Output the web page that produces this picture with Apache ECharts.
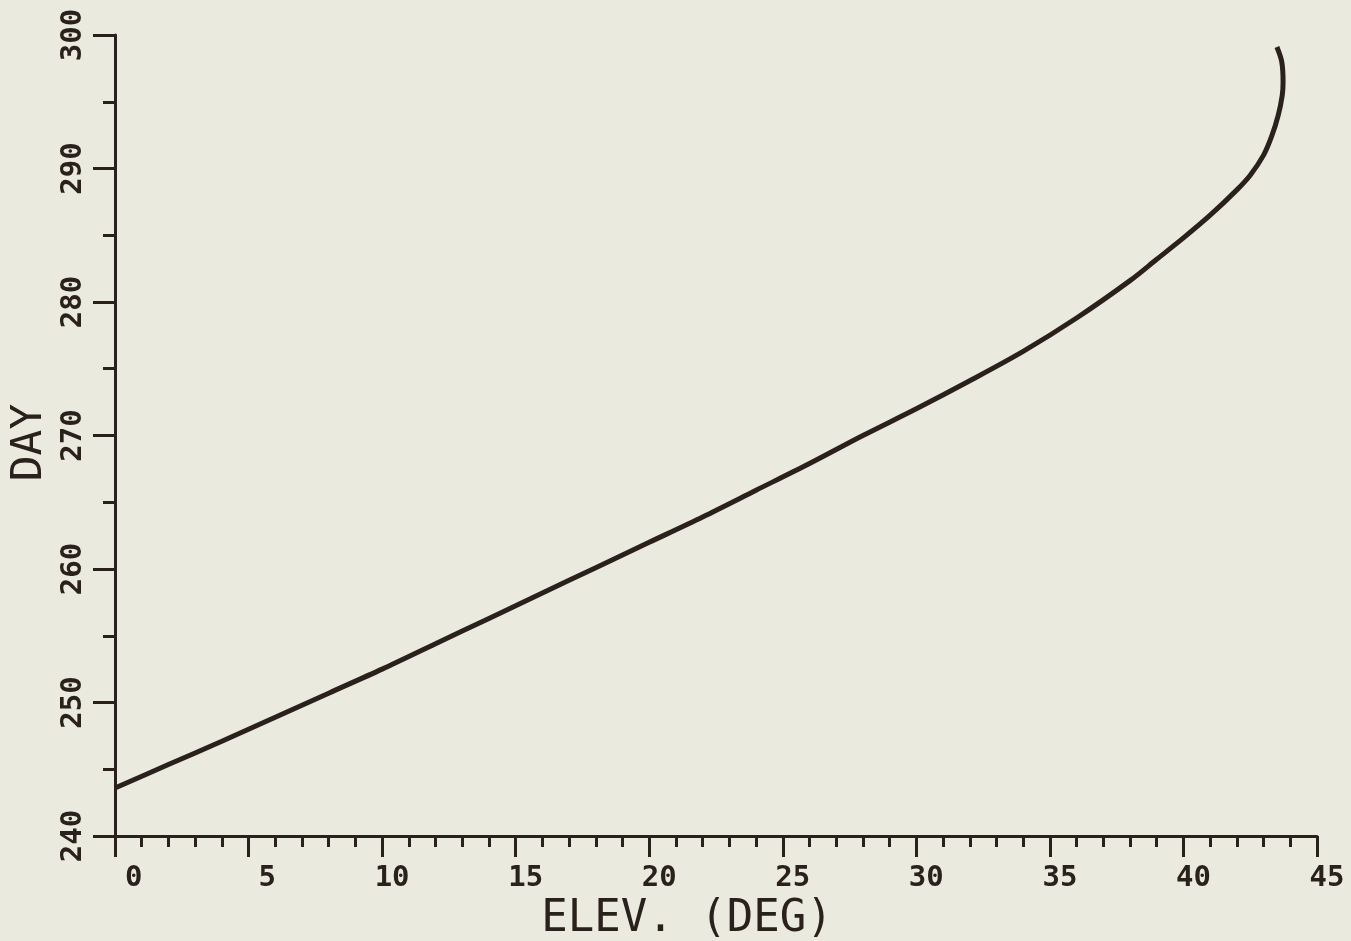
<!DOCTYPE html>
<html>
<head>
<meta charset="utf-8">
<title>Day vs Elevation</title>
<script src="https://cdn.jsdelivr.net/npm/echarts@6/dist/echarts.min.js"></script>
<style>
  html, body { margin: 0; padding: 0; background: #eaeadf; }
  #chart { width: 1351px; height: 941px; }
</style>
</head>
<body>
<div id="chart"></div>
<script>
// Elevation angle (degrees) and the corresponding day number
const elevation = [0, 2, 4, 6, 8, 10, 12, 14, 16, 18, 20, 22, 24, 26, 28, 30, 32, 34, 36, 38, 39, 40, 41, 42, 42.5, 43, 43.3, 43.55, 43.7, 43.73, 43.68, 43.5];
const day = [243.6, 245.35, 247.1, 248.9, 250.7, 252.5, 254.4, 256.3, 258.2, 260.1, 262.0, 263.9, 265.9, 267.9, 270.0, 272.0, 274.1, 276.3, 278.8, 281.6, 283.2, 284.8, 286.5, 288.4, 289.5, 291.0, 292.4, 294.0, 295.5, 296.5, 298.0, 299.1];

// Axis ranges and tick spacing
const xRange = [0, 45];
const xStep = 5;
const yRange = [240, 300];
const yStep = 10;

const xName = 'ELEV. (DEG)';
const yName = 'DAY';

const ink = '#2a211d';
const mono = '"DejaVu Sans Mono", "Liberation Mono", monospace';

const points = elevation.map((e, i) => [e, day[i]]);

const chart = echarts.init(document.getElementById('chart'), null, { renderer: 'canvas' });

chart.setOption({
  backgroundColor: '#eaeadf',
  animation: false,
  grid: { left: 115, right: 34, top: 35, bottom: 105, containLabel: false, outerBoundsMode: 'none' },
  xAxis: {
    type: 'value',
    min: xRange[0],
    max: xRange[1],
    interval: xStep,
    name: xName,
    nameLocation: 'middle',
    nameGap: 60,
    nameTextStyle: {
      fontFamily: mono,
      fontSize: 44,
      color: ink,
      padding: [0, 58, 0, 0]
    },
    axisLine: { show: true, onZero: false, lineStyle: { color: ink, width: 3 } },
    axisTick: { show: true, inside: false, length: 21, lineStyle: { color: ink, width: 3 } },
    minorTick: { show: true, splitNumber: 5, length: 11, lineStyle: { color: ink, width: 3 } },
    splitLine: { show: false },
    minorSplitLine: { show: false },
    axisLabel: {
      margin: 28,
      fontFamily: mono,
      fontWeight: 'bold',
      fontSize: 29,
      color: ink,
      align: 'center',
      padding: [0, 0, 0, 20],
      formatter: v => (String(v).length < 2 ? ' ' + v : String(v))
    }
  },
  yAxis: {
    type: 'value',
    min: yRange[0],
    max: yRange[1],
    interval: yStep,
    name: yName,
    nameLocation: 'middle',
    nameGap: 52,
    nameRotate: 90,
    nameTextStyle: {
      fontFamily: mono,
      fontSize: 43,
      color: ink,
      padding: [0, 14, 0, 0]
    },
    axisLine: { show: true, onZero: false, lineStyle: { color: ink, width: 3 } },
    axisTick: { show: true, inside: false, length: 22, lineStyle: { color: ink, width: 3 } },
    minorTick: { show: true, splitNumber: 2, length: 12, lineStyle: { color: ink, width: 3 } },
    splitLine: { show: false },
    minorSplitLine: { show: false },
    axisLabel: {
      margin: 27,
      rotate: 90,
      fontFamily: mono,
      fontWeight: 'bold',
      fontSize: 29,
      color: ink
    }
  },
  series: [{
    type: 'line',
    data: points,
    smooth: 0.3,
    showSymbol: false,
    clip: false,
    lineStyle: { color: ink, width: 5 }
  }]
});
</script>
</body>
</html>
